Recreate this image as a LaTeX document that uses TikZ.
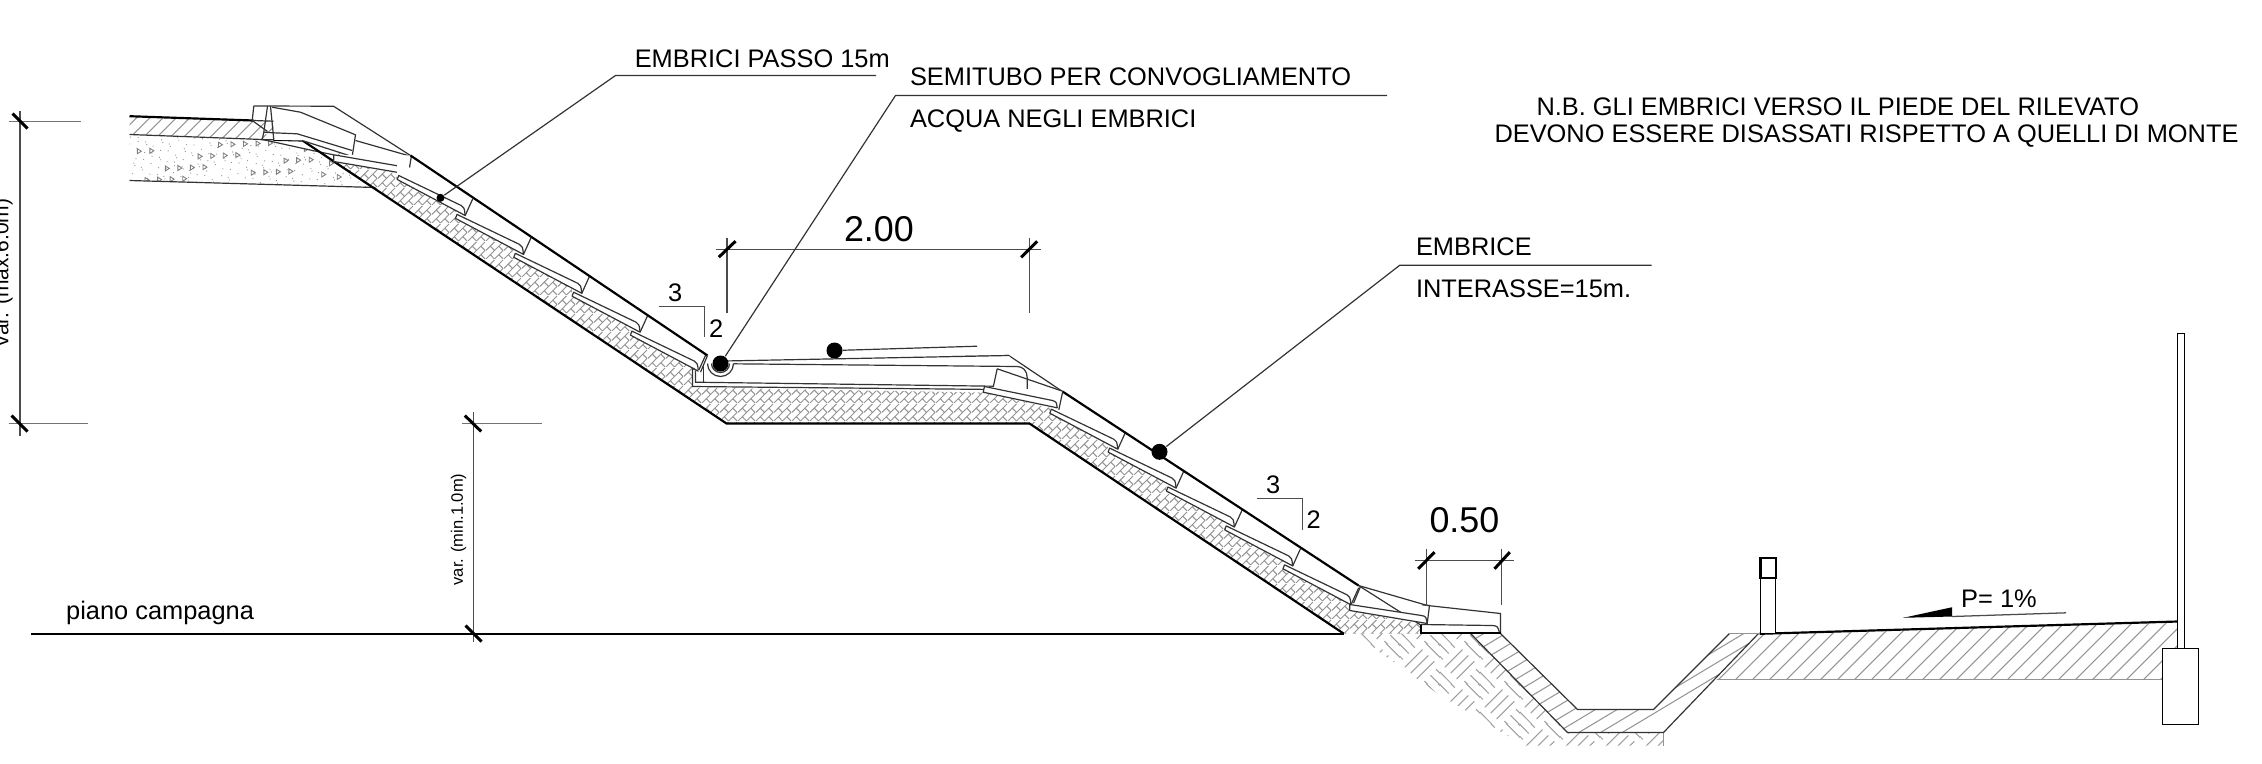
\documentclass[tikz,border=0pt]{standalone}
\usepackage{fontspec}
\setmainfont{Liberation Sans}
\usetikzlibrary{patterns}
\newdimen\pxu \pxu=0.28453pt
\newcommand{\pseg}[4]{\pgfpathmoveto{\pgfqpoint{#1\pxu}{#2\pxu}}\pgfpathlineto{\pgfqpoint{#3\pxu}{#4\pxu}}}
\pgfdeclarepatternformonly{embrick}{\pgfqpoint{0pt}{0pt}}{\pgfqpoint{18\pxu}{18\pxu}}{\pgfqpoint{18\pxu}{18\pxu}}{%
  \pgfsetlinewidth{0.3pt}%
  \pseg{0}{0}{18}{18}\pseg{9}{0}{18}{9}\pseg{0}{9}{9}{18}%
  \pseg{4.5}{4.5}{9}{0}\pseg{13.5}{13.5}{18}{9}\pseg{4.5}{13.5}{9}{9}\pseg{13.5}{4.5}{18}{0}%
  \pgfusepath{stroke}}
\pgfdeclarepatternformonly{emearth}{\pgfqpoint{0pt}{0pt}}{\pgfqpoint{40\pxu}{40\pxu}}{\pgfqpoint{40\pxu}{40\pxu}}{%
  \pgfsetlinewidth{0.3pt}%
  \pseg{11}{11}{29}{29}\pseg{17}{5}{35}{23}\pseg{5}{17}{23}{35}%
  \pseg{-9}{9}{9}{-9}\pseg{-3}{15}{15}{-3}\pseg{-15}{3}{3}{-15}%
  \pseg{31}{9}{49}{-9}\pseg{37}{15}{55}{-3}\pseg{25}{3}{43}{-15}%
  \pseg{-9}{49}{9}{31}\pseg{-3}{55}{15}{37}\pseg{-15}{43}{3}{25}%
  \pseg{31}{49}{49}{31}\pseg{37}{55}{55}{37}\pseg{25}{43}{43}{25}%
  \pgfusepath{stroke}}
\tikzset{
  thick line/.style={line width=0.62pt,black},
  thin line/.style={line width=0.34pt,black!80},
  dim line/.style={line width=0.36pt,black!70},
  tick mark/.style={line width=0.85pt,black},
  hatch line/.style={line width=0.3pt,black!42},
  lbl/.style={anchor=base west,inner sep=0pt,outer sep=0pt,font=\fontsize{7.22}{8}\selectfont},
  big lbl/.style={anchor=base west,inner sep=0pt,outer sep=0pt,font=\fontsize{10.2}{11}\selectfont},
  dot/.style={circle,fill=black,inner sep=0pt,minimum size=#1},
}
\newcommand{\embtile}[1]{%
  \begin{scope}[shift={(#1)}]
    \fill[white] (0,0)--(68,36)--(75.7,19)--(0,-18)--cycle;
    \draw[thin line,line join=round] (0,0)--(1.5,-4)--(64,26) .. controls (67,28) .. (68,36)--cycle;
    \draw[thin line] (75.7,19)--(68,36);
  \end{scope}}
\begin{document}
\begin{tikzpicture}[x=0.01cm,y=-0.01cm]
\useasboundingbox (-0.5,-0.5) rectangle (2261.5,762.5);
% --- earth below the toe
\fill[pattern=emearth,pattern color=black!38] (1353,633)--(1437,693)--(1523,745)--(1663,745)--(1663,732)--(1567,732)--(1470,633)--cycle;
\draw[hatch line] (1663,732)--(1663,745);
% --- ditch lining
\begin{scope}
  \clip (1470,633)--(1500,633)--(1577,709)--(1653,709)--(1729,633)--(1758,633)--(1663,732)--(1567,732)--cycle;
  \foreach \c in {640,653,...,840}{\draw[hatch line] (1450,\c)--(1780,\c-198);}
\end{scope}
\draw[thin line] (1470,633)--(1567,732)--(1663,732)--(1758,633);
\draw[thin line] (1500,633)--(1577,709)--(1653,709)--(1729,633);
\draw[hatch line] (1729,633)--(1758,633);
% --- right road layer
\begin{scope}
  \clip (1759,633)--(2177,621)--(2177,648)--(2162,648)--(2162,679)--(1716,679)--cycle;
  \foreach \x in {1700,1717,...,2170}{\draw[hatch line] (\x,680)--(\x+62,618);}
\end{scope}
\draw[hatch line,line width=0.45pt] (1716,679)--(2162,679);
% --- left road layers
\begin{scope}
  \clip (129,116)--(253,120)--(273,120.7)--(273,139)--(262,139)--(129,134)--cycle;
  \foreach \x in {100,113.3,...,300}{\draw[hatch line] (\x,140)--(\x+28,112);}
\end{scope}
\begin{scope}
  \clip (129,134)--(262,139)--(312,150)--(333,161)--(375,187)--(129,180)--cycle;
  \foreach \i in {1,...,260}{
    \pgfmathsetmacro{\gx}{129+250*mod(\i*0.618034,1)}\pgfmathsetmacro{\gy}{134+54*mod(mod(\i*37,101)*0.754878,1)}
    \fill[black!45] (\gx,\gy) circle (0.6);}
  \foreach \i in {1,...,34}{
    \pgfmathsetmacro{\gx}{132+225*mod(\i*0.381966,1)}\pgfmathsetmacro{\gy}{140+40*mod(mod(\i*23,59)*0.569840,1)}
    \draw[black!50,line width=0.25pt] (\gx,\gy-2.5)--(\gx+4,\gy)--(\gx,\gy+2.5)--cycle;}
\end{scope}
\draw[thin line] (129,134)--(262,139)--(312,150)--(333,154.3);
\draw[thin line] (129,180)--(375,187);
% --- brick layer under the slopes
\fill[pattern=embrick,pattern color=black!42] (333,161)--(333,150)--(406,166)--(692,358)--(692,387)--(983,392)--(983,385)--(1056,400)--(1349,600)--(1349,610)--(1423,624)--(1421,633)--(1343,633)--(1029,423)--(726,423)--cycle;
% --- ground and formation lines
\draw[thick line,line join=round] (273,139.3)--(302,140)--(726,423)--(1029,423)--(1343,633);
\draw[thick line] (30,633.3)--(1343,633.3);
\draw[thick line] (129,115.7)--(253,120);
\draw[thin line] (253,120)--(273,120.7);
\draw[thick line] (1759,633.3)--(2177,621);
% --- slope surface lines
\draw[thin line] (253,105.5)--(333,105.7)--(410,155);
\draw[thin line] (723,360.5)--(1008.3,355)--(1062,391);
\draw[thin line] (1358,585)--(1427,605)--(1500,613)--(1500,633);
\draw[thin line] (1358,585)--(1421,625);
% --- head of the slope
\fill[white] (263,131.7)--(273.3,131.7)--(273.3,106)--(271.7,106.7)--(300,111.7)--(355,134.3)--(351.7,156)--(301.7,140)--(273.3,139.3)--cycle;
\draw[thin line] (253.3,105.7)--(251.7,120)--(267,131);
\draw[thin line] (267,105.7)--(263.3,131.7)--(261.7,139.3)--(273.3,139.3);
\draw[thin line] (270,105.7)--(273.3,139.3);
\draw[thin line] (263.3,131.7)--(273,132.3)--(296.7,133.3)--(351.7,150);
\draw[thin line] (271.7,106.7)--(300,111.7)--(355,134.3)--(351.7,156)--(301.7,140);
\draw[thin line] (355,140)--(410,155.7);
% --- first plate of the upper slope
\fill[white] (333.3,154.3)--(410,155)--(407.7,175)--(333.3,161)--cycle;
\draw[thin line,line join=round] (333.3,154.3)--(401,166) .. controls (405,167.5) .. (405.7,173.3)--(333.3,161)--cycle;
\draw[thin line] (411,155)--(407.7,175);
% --- repeated plates
\foreach \i in {4,3,...,0}{\embtile{396.7+58.3*\i,179+38.9*\i}}
\draw[thick line] (410,155)--(707,355);
% --- bench
\fill[white] (692,368)--(703,371)--(707,355)--(1008,355)--(1027,377)--(1027,389)--(692,386)--cycle;
\draw[thin line] (723,360.5)--(1008.3,355);
\draw[thin line] (707,355)--(700,371.7);
\draw[thin line] (698,370.7)--(692,368)--(692,386)--(1026.7,389.3)--(1026.7,377) .. controls (1026.7,370) and (1022,366) .. (1016.7,366)--(733,363.3);
\draw[thin line] (695,370)--(695,381.7)--(993,385.7);
\draw[thin line] (703.3,363.3)--(703.3,382.7);
\draw[thin line] (996.7,368.3)--(992.7,386.7);
% --- lower slope plates
\foreach \i in {4,3,...,0}{\embtile{1049.3+58.3*\i,412.7+38.9*\i}}
\draw[thick line] (1062,391)--(1358,585);
% --- first plate of the lower slope
\fill[white] (982.7,391.7)--(984,386)--(1062.3,390.7)--(1058.3,409.3)--cycle;
\draw[thin line,line join=round] (982.7,391.7)--(984,386)--(1052,400) .. controls (1056,401.5) .. (1056.7,407.3)--cycle;
\draw[thin line] (1062.3,390.7)--(1058.3,409.3);
\draw[thin line] (996.7,368.3)--(1062,390.7);
% --- semitube
\draw[thin line,fill=white] (707,363) arc[start angle=180,end angle=0,radius=13];
\draw[thin line] (711,363) arc[start angle=180,end angle=0,radius=9];
% --- plates at the toe
\fill[white] (1349.3,604)--(1421,615)--(1429,605)--(1426.7,623)--(1349.3,610)--cycle;
\draw[thin line,line join=round] (1349.3,610)--(1349.3,604)--(1421,615) .. controls (1425.5,616) .. (1426.7,623)--cycle;
\draw[thin line] (1360,586)--(1353,602.7);
\draw[thin line] (1421.7,604.3)--(1429,605)--(1426.7,623);
\fill[white] (1420.7,624)--(1491.7,625)--(1499,632)--(1420.7,632.5)--cycle;
\draw[thin line] (1420.7,624)--(1491.7,625) .. controls (1497,625.5) .. (1499,632);
\draw[thick line] (1420.7,624)--(1420.7,632.7)--(1500,632.7);
% --- post and fence
\draw[thin line,black,fill=white] (1760,577.3) rectangle (1775.3,633.3);
\draw[thick line,fill=white] (1760,557.7) rectangle (1775.3,577.3);
\draw[thin line,black,fill=white] (2176.7,333.3) rectangle (2184,648.3);
\draw[thin line,black,fill=white] (2161.7,648.3) rectangle (2198.3,724.3);
% --- slope mark P
\fill[black] (1902.7,617.3)--(1951.7,606.7)--(1951.7,616)--cycle;
\coordinate (pA) at (1951.7,616);
\coordinate (pB) at (2065.7,612.3);
\draw[dim line] (pA)--(pB);
\node[lbl] (pct) at (1960.7,606.7) {P= 1\%};
% --- dimensions
\draw[dim line] (19.5,110)--(19.5,435);
\draw[dim line,black!55] (8,121)--(80,121) (8,423)--(87,423);
\draw[tick mark] (12,113)--(27,128) (11,415)--(27,431);
\node[rotate=90,anchor=base,inner sep=0pt,font=\fontsize{5.97}{7}\selectfont] (vmax) at (8,272) {var. (max.6.0m)};
\draw[dim line] (472.7,411.7)--(472.7,641);
\draw[dim line,black!55] (461.7,423)--(541,423);
\draw[tick mark] (464.3,415)--(480.7,431) (465,625)--(481,641);
\node[rotate=90,anchor=base,inner sep=0pt,font=\fontsize{4.7}{6}\selectfont] (vmin) at (462.3,529) {var. (min.1.0m)};
\draw[dim line] (715,248.7)--(1040.7,248.7) (726.5,237.7)--(726.5,312.7) (1029,237.7)--(1029,312.7);
\draw[tick mark] (718.3,256.7)--(735,240.7) (1020.7,256.7)--(1036.7,240.7);
\node[big lbl] (d200) at (843.5,240.7) {2.00};
\draw[dim line] (1414,560)--(1513.3,560) (1426,548.3)--(1426,605) (1501.3,548.3)--(1501.3,604);
\draw[tick mark] (1417.7,568.3)--(1434,551.7) (1494,568.3)--(1509.3,551.7);
\node[big lbl] (d050) at (1429,531.7) {0.50};
% --- 3:2 marks
\draw[dim line] (658.3,306)--(704.3,306)--(704.3,336.7);
\node[lbl] (s3a) at (667.5,301) {3};
\node[lbl] (s2a) at (708.5,336.7) {2};
\draw[dim line] (1256,498.3)--(1301.7,498.3)--(1301.7,529);
\node[lbl] (s3b) at (1265.5,492.7) {3};
\node[lbl] (s2b) at (1306,528.3) {2};
% --- leaders
\node[dot=8*0.1mm] (d1) at (440,197.3) {};
\coordinate (k1) at (615,75);
\coordinate (e1) at (875.5,75);
\draw[thin line] (d1)--(k1)--(e1);
\node[lbl] (t1) at (634.3,67.3) {EMBRICI PASSO 15m};
\node[dot=16*0.1mm] (d2) at (720,363) {};
\coordinate (k2) at (895,95);
\coordinate (e2) at (1386.7,95);
\draw[thin line] (d2)--(k2)--(e2);
\node[lbl] (t2) at (909.5,85) {SEMITUBO PER CONVOGLIAMENTO};
\node[lbl] (t3) at (909.5,126.7) {ACQUA NEGLI EMBRICI};
\node[dot=16*0.1mm] (d3) at (1159,451.3) {};
\coordinate (k3) at (1399.3,264.7);
\coordinate (e3) at (1651,264.7);
\draw[thin line] (d3)--(k3)--(e3);
\node[lbl] (t4) at (1415.5,255) {EMBRICE};
\node[lbl] (t5) at (1415.5,296.7) {INTERASSE=15m.};
\node[dot=16*0.1mm] (d4) at (834,350) {};
\coordinate (e4) at (976.7,345.7);
\draw[thin line] (d4)--(e4);
% --- texts
\node[lbl] (t6) at (65.7,619) {piano campagna};
\node[lbl] (n1) at (1536,115) {N.B. GLI EMBRICI VERSO IL PIEDE DEL RILEVATO};
\node[lbl] (n2) at (1494,141.7) {DEVONO ESSERE DISASSATI RISPETTO A QUELLI DI MONTE};
\end{tikzpicture}
\end{document}
